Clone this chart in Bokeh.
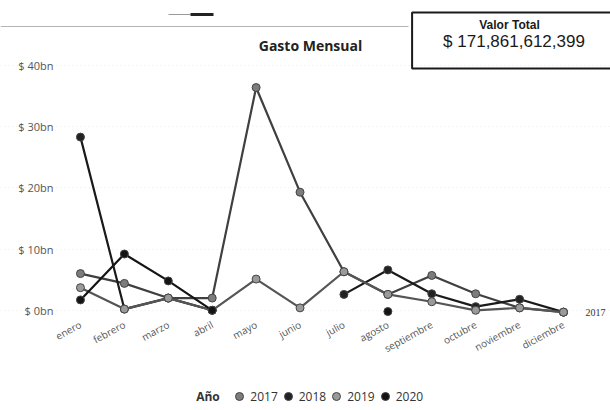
import numpy as np
from bokeh.plotting import figure
from bokeh.models import FixedTicker, Label, Legend, LegendItem, Range1d, BoxAnnotation
from bokeh.core.properties import value
from bokeh.embed import file_html
from bokeh.resources import INLINE

nan = float("nan")

meses = ["enero", "febrero", "marzo", "abril", "mayo", "junio", "julio",
         "agosto", "septiembre", "octubre", "noviembre", "diciembre"]
y_ticks = [0, 10, 20, 30, 40]
y_tick_labels = ["$ 0bn", "$ 10bn", "$ 20bn", "$ 30bn", "$ 40bn"]

anios = ["2017", "2018", "2019", "2020"]
gasto_2017 = [6.0, 4.4, 2.0, 2.0, 36.4, 19.3, 6.3, 2.6, 5.7, 2.7, 0.4, -0.3]
gasto_2018 = [28.3, 0.2, 2.0, 0.0, nan, nan, 2.6, 6.6, 2.7, 0.6, 1.8, -0.3]
gasto_2019 = [3.7, 0.2, 2.0, 0.0, 5.1, 0.4, 6.3, 2.6, 1.4, 0.0, 0.4, -0.3]
gasto_2020 = [1.7, 9.2, 4.8, 0.0, nan, nan, nan, -0.2, nan, nan, nan, nan]

titulo = "Gasto Mensual"
valor_total_titulo = "Valor Total"
valor_total = "$ 171,861,612,399"
titulo_leyenda = "Año"

series = [gasto_2017, gasto_2018, gasto_2019, gasto_2020]
line_colors = ["#404040", "#1a1a1a", "#555555", "#151515"]
fill_colors = ["#7c7c7c", "#222222", "#9a9a9a", "#141414"]

p = figure(width=610, height=410, output_backend="svg", toolbar_location=None,
           x_range=Range1d(-1.821, 12.07), y_range=Range1d(-16.37, 50.62),
           min_border_left=0, min_border_right=0, min_border_top=0,
           min_border_bottom=0)
p.outline_line_color = None
p.background_fill_color = "white"
p.border_fill_color = "white"

x_idx = np.arange(len(meses), dtype=float)

renderers = []
for vals, lc, fc in zip(series, line_colors, fill_colors):
    y = np.array(vals, dtype=float)
    p.line(x_idx, y, line_width=2.2, line_color=lc)
    r = p.scatter(x_idx, y, size=8, fill_color=fc, line_color="#444444",
                  line_width=1)
    renderers.append(r)

p.text(x=[len(meses) - 1], y=[gasto_2017[-1]], text=[anios[0]], x_offset=22,
       text_baseline="middle", text_align="left", text_font=value("Liberation Serif"),
       text_font_size="10px", text_color="#333333")

# axes
p.xaxis.fixed_location = -1.5
p.xaxis.ticker = FixedTicker(ticks=list(range(len(meses))))
p.xaxis.major_label_overrides = {i: m for i, m in enumerate(meses)}
p.xaxis.major_label_orientation = 0.5
p.xaxis.axis_line_color = None
p.xaxis.major_tick_line_color = None
p.xaxis.minor_tick_line_color = None
p.xaxis.major_tick_out = 0
p.xaxis.major_label_text_font = "Open Sans"
p.xaxis.major_label_text_font_size = "10px"
p.xaxis.major_label_text_color = "#555555"
p.xaxis.major_label_standoff = 4

p.yaxis.fixed_location = -0.5
p.yaxis.ticker = FixedTicker(ticks=y_ticks)
p.yaxis.major_label_overrides = {t: l for t, l in zip(y_ticks, y_tick_labels)}
p.yaxis.axis_line_color = None
p.yaxis.major_tick_line_color = None
p.yaxis.minor_tick_line_color = None
p.yaxis.major_tick_out = 0
p.yaxis.major_label_standoff = 5
p.yaxis.major_label_text_font = "Open Sans"
p.yaxis.major_label_text_font_size = "11px"
p.yaxis.major_label_text_color = "#555555"

p.xgrid.visible = False
p.ygrid.grid_line_color = "#ececec"
p.ygrid.grid_line_dash = "1 3"

# header decorations (slicer remnant and divider)
p.add_layout(BoxAnnotation(left=0, right=408, top=384.5, bottom=383.5,
                           left_units="screen", right_units="screen",
                           top_units="screen", bottom_units="screen",
                           fill_color="#b5b5b5", fill_alpha=1, line_color=None))
p.add_layout(BoxAnnotation(left=168, right=190, top=396.5, bottom=395.5,
                           left_units="screen", right_units="screen",
                           top_units="screen", bottom_units="screen",
                           fill_color="#9a9a9a", fill_alpha=1, line_color=None))
p.add_layout(BoxAnnotation(left=190, right=213, top=397.5, bottom=394.5,
                           left_units="screen", right_units="screen",
                           top_units="screen", bottom_units="screen",
                           fill_color="#222222", fill_alpha=1, line_color=None))

# title
p.add_layout(Label(x=310, y=365, x_units="screen", y_units="screen", text=titulo,
                   text_align="center", text_baseline="middle",
                   text_font="Open Sans", text_font_style="bold",
                   text_font_size="14px", text_color="#222222"))

# card
p.add_layout(Label(x=518, y=370, x_units="screen", y_units="screen", text=valor_total,
                   text_align="center", text_baseline="middle",
                   text_font="Liberation Sans", text_font_size="17px",
                   text_color="#1a1a1a", padding=(31, 40, 19, 18),
                   border_line_color="#1a1a1a", border_line_width=2))
p.add_layout(Label(x=509, y=386, x_units="screen", y_units="screen",
                   text=valor_total_titulo, text_align="center",
                   text_baseline="middle", text_font="Liberation Sans",
                   text_font_style="bold", text_font_size="12px",
                   text_color="#1a1a1a"))

# legend
p.add_layout(Label(x=207.5, y=14, x_units="screen", y_units="screen",
                   text=titulo_leyenda, text_align="center", text_baseline="middle",
                   text_font="Open Sans", text_font_style="bold",
                   text_font_size="12px", text_color="#333333"))
legend = Legend(items=[LegendItem(label=a, renderers=[r]) for a, r in zip(anios, renderers)],
                orientation="horizontal", location=(229.3, 4),
                glyph_width=20, glyph_height=20, label_standoff=1, spacing=0,
                padding=0, margin=0, border_line_color=None,
                background_fill_alpha=0, label_text_font="Open Sans",
                label_text_font_size="12px", label_text_color="#333333")
p.add_layout(legend, "center")

open("out.html", "w").write(file_html(p, INLINE))
